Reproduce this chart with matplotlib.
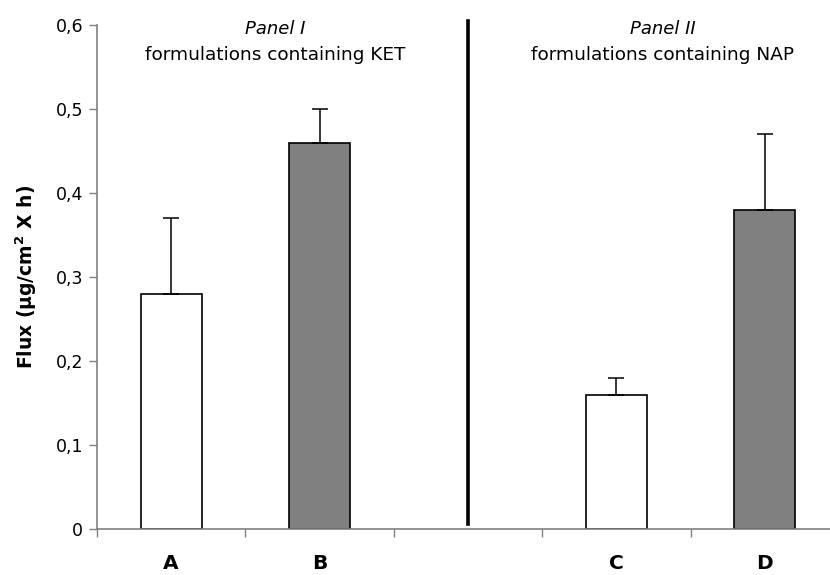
import numpy as np
import matplotlib
matplotlib.use("Agg")
import matplotlib.pyplot as plt
from matplotlib.ticker import FuncFormatter

# data
categories = ["A", "B", "", "C", "D"]
flux = [0.28, 0.46, None, 0.16, 0.38]
flux_err = [0.09, 0.04, None, 0.02, 0.09]
bar_colors = ["white", "#808080", None, "white", "#808080"]
y_ticks = [0, 0.1, 0.2, 0.3, 0.4, 0.5, 0.6]

plt.rcParams["font.family"] = ["DejaVu Sans"]

fig = plt.figure(figsize=(8.3, 5.75), dpi=100)
ax = fig.add_axes([97 / 830, 46 / 575, 742 / 830, 504 / 575])

x = np.arange(len(categories))
for xi, val, err, col in zip(x, flux, flux_err, bar_colors):
    if val is None:
        continue
    ax.bar(xi, val, width=0.41, color=col, edgecolor="black", linewidth=1.2, zorder=2)
    ax.errorbar(xi, val, yerr=[[0], [err]], fmt="none", ecolor="black",
                elinewidth=1.1, capsize=6, capthick=1.1, zorder=3)

# separator between the two panels
ax.plot([2, 2], [0.006, 0.605], color="black", linewidth=2.6, clip_on=False, zorder=4)

ax.set_xlim(-0.5, 4.5)
ax.set_ylim(0, 0.6)
ax.set_xticks(np.arange(-0.5, 5.0, 1.0))
ax.set_xticklabels([])
for xi, lab in zip(x, categories):
    ax.text(xi, -0.041, lab, ha="center", va="center", fontsize=14.5, fontweight="bold")

ax.set_yticks(y_ticks)
ax.yaxis.set_major_formatter(FuncFormatter(lambda v, p: "0" if v == 0 else f"{v:.1f}".replace(".", ",")))
ax.tick_params(axis="y", labelsize=12.5, length=6, width=1, color="#808080", pad=4)
ax.tick_params(axis="x", length=6, width=1, color="#808080")

for side in ["top", "right"]:
    ax.spines[side].set_visible(False)
for side in ["left", "bottom"]:
    ax.spines[side].set_color("#808080")
    ax.spines[side].set_linewidth(1.2)

ax.set_ylabel("Flux (\u03bcg/cm$^\\mathbf{2}$ X h)", fontsize=13.5, fontweight="bold", labelpad=12)

ax.text(0.70, 0.595, "Panel I", ha="center", va="center", fontsize=13, style="italic")
ax.text(0.70, 0.564, "formulations containing KET", ha="center", va="center", fontsize=13.3)
ax.text(3.31, 0.595, "Panel II", ha="center", va="center", fontsize=13, style="italic")
ax.text(3.31, 0.564, "formulations containing NAP", ha="center", va="center", fontsize=13.3)

fig.savefig("out.png", dpi=100)
